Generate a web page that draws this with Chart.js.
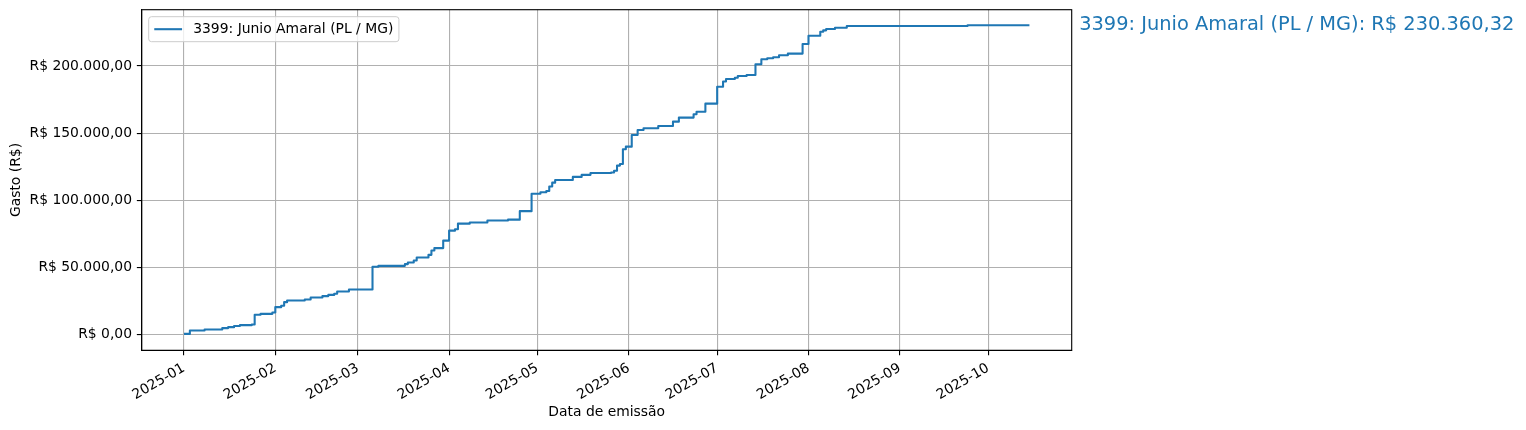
<!DOCTYPE html>
<html><head><meta charset="utf-8">
<script src="https://cdn.jsdelivr.net/npm/chart.js@4/dist/chart.umd.min.js"></script>
<style>html,body{margin:0;padding:0;background:#fff;overflow:hidden}#wrap{width:1526px;height:430px}</style>
</head><body><div id="wrap"><canvas id="c" width="1526" height="430"></canvas></div>
<script>
const seriesLabel = '3399: Junio Amaral (PL / MG)';
const dates = ['2025-01-01','2025-01-03','2025-01-08','2025-01-14','2025-01-16','2025-01-18','2025-01-20','2025-01-24','2025-01-25','2025-01-27','2025-01-31',
'2025-02-01','2025-02-03','2025-02-04','2025-02-05','2025-02-11','2025-02-13','2025-02-17','2025-02-19','2025-02-21','2025-02-22','2025-02-26',
'2025-03-06','2025-03-08','2025-03-17','2025-03-18','2025-03-20','2025-03-21','2025-03-25','2025-03-26','2025-03-27','2025-03-30',
'2025-04-01','2025-04-03','2025-04-04','2025-04-08','2025-04-14','2025-04-21','2025-04-25','2025-04-29',
'2025-05-02','2025-05-04','2025-05-05','2025-05-06','2025-05-07','2025-05-13','2025-05-16','2025-05-19','2025-05-26','2025-05-27','2025-05-28','2025-05-29','2025-05-30','2025-05-31',
'2025-06-02','2025-06-04','2025-06-06','2025-06-11','2025-06-16','2025-06-18','2025-06-23','2025-06-24','2025-06-27',
'2025-07-01','2025-07-03','2025-07-04','2025-07-07','2025-07-08','2025-07-11','2025-07-14','2025-07-16','2025-07-18','2025-07-20','2025-07-22','2025-07-25','2025-07-30',
'2025-08-01','2025-08-05','2025-08-06','2025-08-07','2025-08-10','2025-08-14','2025-09-24','2025-10-15'];
const cumulative = [700,3200,3900,5000,5700,6500,7200,7700,14900,15600,16600,
20600,21600,24300,25500,26300,27800,28800,29700,30500,32200,33700,
50600,51300,52600,53800,55300,57500,59500,62700,64500,70100,
77500,78600,82700,83500,85000,85700,92000,105000,
106100,107000,110300,113200,115200,117500,119000,120400,120700,122100,125900,127100,138000,140000,
148700,152400,153700,155400,158600,161600,164100,166000,172000,
184600,188400,190300,191300,192600,193300,201300,205000,205700,206500,208000,209200,216400,
222500,225500,226500,227500,228500,229700,230360.32,230360.32];
const monthTicks = ['2025-01','2025-02','2025-03','2025-04','2025-05','2025-06','2025-07','2025-08','2025-09','2025-10'];
const yTicks = [0,50000,100000,150000,200000];
const xTitle = 'Data de emissão';
const yTitle = 'Gasto (R$)';
const finalTotal = 230360.32;

const BLUE = '#1f77b4';
const FONT = 'DejaVu Sans';
const FS = 13.9;
const PT = 100/72;
const t0 = Date.UTC(2025,0,1);
function dayOf(s){const p=s.split('-').map(Number);return (Date.UTC(p[0],p[1]-1,p[2]||1)-t0)/86400000;}
function fmtBRL(v){
  const neg=v<0; v=Math.abs(v);
  let [i,d]=v.toFixed(2).split('.');
  i=i.replace(/\B(?=(\d{3})+(?!\d))/g,'.');
  return 'R$ '+(neg?'-':'')+i+','+d;
}
const pts = dates.map((d,i)=>({x:dayOf(d),y:cumulative[i]}));
const xs = pts.map(p=>p.x), ysv = pts.map(p=>p.y);
const xlo=Math.min(...xs), xhi=Math.max(...xs), xm=(xhi-xlo)*0.05;
const ylo=Math.min(0,...ysv), yhi=Math.max(...ysv), ym=(yhi-ylo)*0.05;

const decor = {
  id:'decor',
  afterDatasetsDraw(chart){
    const {ctx, chartArea:a} = chart;
    ctx.save();
    ctx.strokeStyle='#000'; ctx.lineWidth=0.8*PT;
    ctx.strokeRect(a.left,a.top,a.right-a.left,a.bottom-a.top);
    ctx.restore();
  },
  afterDraw(chart){
    const {ctx, chartArea:a} = chart;
    ctx.save();
    // legend
    ctx.font = FS+'px "'+FONT+'"';
    const tw = ctx.measureText(seriesLabel).width;
    const bx = a.left+7, by = a.top+7, bp = 0.4*FS;
    const hl = 2*FS, htp = 0.8*FS;
    const bw = bp + hl + htp + tw + bp, bh = 25;
    ctx.beginPath();
    ctx.roundRect(bx,by,bw,bh,0.2*FS);
    ctx.fillStyle='rgba(255,255,255,0.8)'; ctx.fill();
    ctx.strokeStyle='#cccccc'; ctx.lineWidth=1; ctx.stroke();
    const cy = by+bh/2;
    ctx.beginPath(); ctx.moveTo(bx+bp,cy); ctx.lineTo(bx+bp+hl,cy);
    ctx.strokeStyle=BLUE; ctx.lineWidth=1.5*PT; ctx.stroke();
    ctx.fillStyle='#000'; ctx.textBaseline='middle'; ctx.textAlign='left';
    ctx.fillText(seriesLabel, bx+bp+hl+htp, cy+0.5);
    // end label
    const ys = chart.scales.y;
    ctx.font = '19.4px "'+FONT+'"';
    ctx.fillStyle = BLUE;
    ctx.fillText(seriesLabel+': '+fmtBRL(finalTotal), a.right+7.5, ys.getPixelForValue(finalTotal));
    ctx.restore();
  }
};

new Chart(document.getElementById('c'), {
  type:'line',
  data:{datasets:[{label:seriesLabel,data:pts,borderColor:BLUE,borderWidth:1.5*PT,stepped:'before',pointRadius:0,fill:false,tension:0,borderCapStyle:'butt',borderJoinStyle:'round'}]},
  options:{
    responsive:false, animation:false,
    layout:{padding:{left:0,right:454.3,top:9.7,bottom:0}},
    plugins:{legend:{display:false},tooltip:{enabled:false}},
    scales:{
      x:{type:'linear',min:xlo-xm,max:xhi+xm,
        afterBuildTicks(s){s.ticks=monthTicks.map(m=>({value:dayOf(m+'-01')}));},
        afterFit(s){s.height=79.7;s.paddingLeft=0;s.paddingRight=0;},
        ticks:{autoSkip:false,minRotation:30,maxRotation:30,padding:3.5*PT,color:'#000',font:{family:FONT,size:FS},
          callback:(v,i)=>monthTicks[i]},
        grid:{color:'#b0b0b0',lineWidth:0.8*PT,tickColor:'#000',tickLength:3.5*PT,tickWidth:0.8*PT},
        border:{color:'#000',width:0.8*PT},
        title:{display:true,text:xTitle,color:'#000',font:{family:FONT,size:FS},padding:{top:4,bottom:9}}
      },
      y:{type:'linear',min:ylo-ym,max:yhi+ym,
        afterBuildTicks(s){s.ticks=yTicks.map(v=>({value:v}));},
        afterFit(s){s.width=141.7;s.paddingTop=0;s.paddingBottom=0;},
        ticks:{padding:3.5*PT,color:'#000',font:{family:FONT,size:FS},callback:(v)=>fmtBRL(v)},
        grid:{color:'#b0b0b0',lineWidth:0.8*PT,tickColor:'#000',tickLength:3.5*PT,tickWidth:0.8*PT},
        border:{color:'#000',width:0.8*PT},
        title:{display:true,text:yTitle,color:'#000',font:{family:FONT,size:FS},padding:{top:8,bottom:4}}
      }
    }
  },
  plugins:[decor]
});
</script></body></html>
